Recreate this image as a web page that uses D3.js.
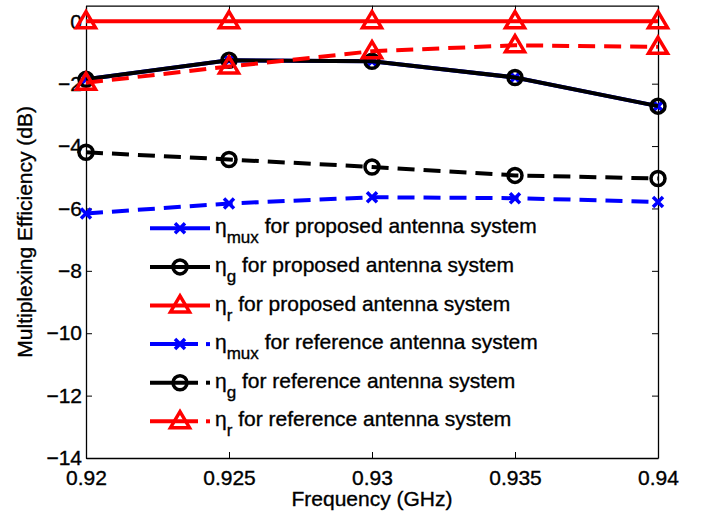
<!DOCTYPE html>
<html><head><meta charset="utf-8">
<script src="https://cdn.jsdelivr.net/npm/d3@7"></script>
<style>
body{margin:0;background:#fff;}
text{font-family:"Liberation Sans",Arial,Helvetica,sans-serif;}
</style>
</head><body>
<svg id="chart" width="709" height="516"></svg>
<script>
const freq = [0.92, 0.925, 0.93, 0.935, 0.94];
const xTicks = [0.92, 0.925, 0.93, 0.935, 0.94];
const yTicks = [-14, -12, -10, -8, -6, -4, -2, 0];
const muxProposed = [-1.86, -1.25, -1.28, -1.80, -2.72];
const gProposed   = [-1.86, -1.25, -1.28, -1.80, -2.72];
const rProposed   = [0, 0, 0, 0, 0];
const muxReference = [-6.16, -5.84, -5.64, -5.67, -5.79];
const gReference   = [-4.20, -4.43, -4.67, -4.94, -5.04];
const rReference   = [-1.97, -1.45, -0.96, -0.77, -0.82];
const seriesNames = ["mux","g","r","mux","g","r"];
const seriesSystems = ["proposed","proposed","proposed","reference","reference","reference"];

const series = [
  {sym:seriesNames[0], sys:seriesSystems[0], vals:muxProposed, color:"#0000ff", marker:"x", dashed:false},
  {sym:seriesNames[1], sys:seriesSystems[1], vals:gProposed, color:"#000000", marker:"o", dashed:false},
  {sym:seriesNames[2], sys:seriesSystems[2], vals:rProposed, color:"#ff0000", marker:"^", dashed:false},
  {sym:seriesNames[3], sys:seriesSystems[3], vals:muxReference, color:"#0000ff", marker:"x", dashed:true},
  {sym:seriesNames[4], sys:seriesSystems[4], vals:gReference, color:"#000000", marker:"o", dashed:true},
  {sym:seriesNames[5], sys:seriesSystems[5], vals:rReference, color:"#ff0000", marker:"^", dashed:true}
];

const FS = 21, SUB = 17, TXT_STROKE = 0.35;
const L = 86, R = 658, T = 5.7, B = 458;
const svg = d3.select("#chart");
const x = d3.scaleLinear().domain([0.92, 0.94]).range([L, R]);
const y = d3.scaleLinear().domain([-14, 0.5]).range([B, T]);

function styleText(sel) {
  sel.attr("font-size", FS).attr("fill", "#000").attr("stroke", "#000").attr("stroke-width", TXT_STROKE)
     .attr("font-family", '"Liberation Sans",Arial,Helvetica,sans-serif');
}

// axes
const gx = svg.append("g").attr("transform", `translate(0,${B})`)
  .call(d3.axisBottom(x).tickValues(xTicks).tickFormat(d => String(+d.toFixed(3))).tickSizeInner(-6).tickSizeOuter(0).tickPadding(12));
const gxt = svg.append("g").attr("transform", `translate(0,${T})`)
  .call(d3.axisTop(x).tickValues(xTicks).tickFormat("").tickSizeInner(-6).tickSizeOuter(0));
const gy = svg.append("g").attr("transform", `translate(${L},0)`)
  .call(d3.axisLeft(y).tickValues(yTicks).tickFormat(d => d === 0 ? "0" : "\u2212" + Math.abs(d)).tickSizeInner(-6).tickSizeOuter(0).tickPadding(4));
const gyr = svg.append("g").attr("transform", `translate(${R},0)`)
  .call(d3.axisRight(y).tickValues(yTicks).tickFormat("").tickSizeInner(-6).tickSizeOuter(0));
[gx,gxt,gy,gyr].forEach(g => {
  g.selectAll("path.domain").attr("stroke","#000").attr("stroke-width",1.3);
  g.selectAll(".tick line").attr("stroke","#000").attr("stroke-width",1);
  styleText(g.selectAll("text"));
});

// markers
function drawMarker(g, type, cx, cy, color) {
  if (type === "o") {
    g.append("circle").attr("cx",cx).attr("cy",cy).attr("r",7).attr("fill","none").attr("stroke",color).attr("stroke-width",3.5);
  } else if (type === "^") {
    const h = 16, w = 19;
    g.append("path").attr("d",`M${cx},${cy-h*0.6}L${cx+w/2},${cy+h*0.4}L${cx-w/2},${cy+h*0.4}Z`)
      .attr("fill","none").attr("stroke",color).attr("stroke-width",3.5).attr("stroke-linejoin","miter");
  } else if (type === "x") {
    const s = 5;
    g.append("path").attr("d",`M${cx-s},${cy-s}L${cx+s},${cy+s}M${cx-s},${cy+s}L${cx+s},${cy-s}`)
      .attr("stroke",color).attr("stroke-width",3.5).attr("fill","none");
  }
}

const line = d3.line().x((d,i) => x(freq[i])).y(d => y(d));
const plot = svg.append("g");
series.forEach(s => {
  const g = plot.append("g");
  g.append("path").datum(s.vals).attr("d", line)
    .attr("fill","none").attr("stroke", s.color).attr("stroke-width",4)
    .attr("stroke-dasharray", s.dashed ? "17,9" : null);
  s.vals.forEach((v,i) => drawMarker(g, s.marker, x(freq[i]), y(v), s.color));
});

// legend
const legY0 = 228.3, legDy = 38.6;
const leg = svg.append("g");
series.forEach((s,i) => {
  const ly = legY0 + i*legDy;
  const g = leg.append("g");
  if (s.dashed) {
    g.append("line").attr("x1",150).attr("x2",198).attr("y1",ly).attr("y2",ly).attr("stroke",s.color).attr("stroke-width",4);
    g.append("line").attr("x1",206).attr("x2",210).attr("y1",ly).attr("y2",ly).attr("stroke",s.color).attr("stroke-width",4);
  } else {
    g.append("line").attr("x1",150).attr("x2",210).attr("y1",ly).attr("y2",ly).attr("stroke",s.color).attr("stroke-width",4);
  }
  drawMarker(g, s.marker, 180, ly, s.color);
  const t = g.append("text").attr("x",215).attr("y",ly+5);
  styleText(t);
  t.append("tspan").text("\u03b7");
  t.append("tspan").attr("font-size",SUB).attr("dy",10).text(s.sym);
  t.append("tspan").attr("dy",-10).text(" for " + s.sys + " antenna system");
});

// axis titles
styleText(svg.append("text").attr("x",(L+R)/2).attr("y",506).attr("text-anchor","middle").text("Frequency (GHz)"));
styleText(svg.append("text").attr("transform",`translate(32,${(T+B)/2}) rotate(-90)`).attr("text-anchor","middle").text("Multiplexing Efficiency (dB)"));
</script>
</body></html>
